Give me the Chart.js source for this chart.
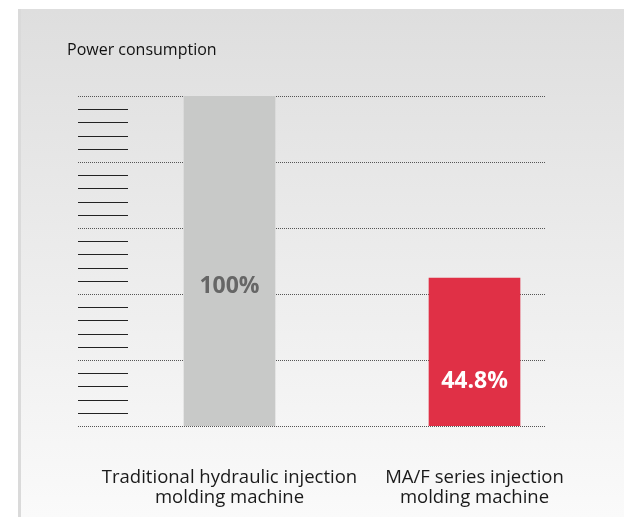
<!DOCTYPE html>
<html>
<head>
<meta charset="utf-8">
<script src="https://cdn.jsdelivr.net/npm/chart.js@4/dist/chart.umd.min.js"></script>
<style>
html,body{margin:0;padding:0;background:#fff;}
canvas{display:block;}
</style>
</head>
<body>
<canvas id="c" width="624" height="517"></canvas>
<script>
const categories = [
  ['Traditional hydraulic injection', 'molding machine'],
  ['MA/F series injection', 'molding machine']
];
const values = [100, 44.8];
const valueLabels = ['100%', '44.8%'];
const chartTitle = 'Power consumption';
const yMin = 0, yMax = 100, majorStep = 20, minorStep = 4;

const FONT = '"Open Sans", "Noto Sans", sans-serif';

const decor = {
  id: 'decor',
  beforeDraw(chart) {
    const ctx = chart.ctx;
    ctx.save();
    ctx.fillStyle = '#ffffff';
    ctx.fillRect(0, 0, chart.width, chart.height);
    const g = ctx.createLinearGradient(0, 9, 0, chart.height);
    g.addColorStop(0, '#dedede');
    g.addColorStop(0.5, '#ececec');
    g.addColorStop(1, '#fafafa');
    ctx.fillStyle = g;
    ctx.fillRect(18, 9, chart.width - 18, chart.height - 9);
    ctx.fillStyle = '#dadada';
    ctx.fillRect(18, 9, 3, chart.height - 9);
    ctx.fillStyle = '#111';
    ctx.font = '16px ' + FONT;
    ctx.textBaseline = 'alphabetic';
    ctx.textAlign = 'left';
    ctx.fillText(chartTitle, 67, 55);
    ctx.restore();
  },
  beforeDatasetsDraw(chart) {
    const ctx = chart.ctx;
    const y = chart.scales.y;
    ctx.save();
    ctx.strokeStyle = '#555';
    ctx.lineWidth = 1;
    ctx.setLineDash([1, 1]);
    for (let v = yMin; v <= yMax; v += majorStep) {
      const py = Math.round(y.getPixelForValue(v)) + 0.5;
      ctx.beginPath();
      ctx.moveTo(78, py);
      ctx.lineTo(545, py);
      ctx.stroke();
    }
    ctx.setLineDash([]);
    ctx.strokeStyle = '#222';
    for (let v = yMin + minorStep; v < yMax; v += minorStep) {
      if (v % majorStep === 0) continue;
      const py = Math.round(y.getPixelForValue(v)) + 0.5;
      ctx.beginPath();
      ctx.moveTo(78, py);
      ctx.lineTo(128, py);
      ctx.stroke();
    }
    ctx.restore();
  },
  afterDatasetsDraw(chart) {
    const ctx = chart.ctx;
    const meta = chart.getDatasetMeta(0);
    const y = chart.scales.y;
    const labelAt = [42.4, 13.6];
    const colors = ['#666666', '#ffffff'];
    ctx.save();
    ctx.font = 'bold 23px ' + FONT;
    ctx.textAlign = 'center';
    ctx.textBaseline = 'middle';
    meta.data.forEach((bar, i) => {
      ctx.fillStyle = colors[i];
      ctx.fillText(valueLabels[i], bar.x, y.getPixelForValue(labelAt[i]));
    });
    ctx.restore();
  }
};

new Chart(document.getElementById('c'), {
  type: 'bar',
  data: {
    labels: categories,
    datasets: [{
      data: values,
      backgroundColor: ['#c8c9c8', '#e03046'],
      borderWidth: 0,
      barThickness: 91
    }]
  },
  options: {
    responsive: false,
    animation: false,
    devicePixelRatio: 1,
    layout: { padding: { left: 107, right: 27, top: 96, bottom: 0 } },
    plugins: { legend: { display: false }, tooltip: { enabled: false }, title: { display: false } },
    scales: {
      y: {
        display: false,
        min: yMin,
        max: yMax
      },
      x: {
        offset: true,
        grid: { display: false, drawTicks: false },
        border: { display: false },
        ticks: {
          color: '#1a1a1a',
          padding: 42,
          maxRotation: 0,
          autoSkip: false,
          font: { size: 18.5, family: FONT, lineHeight: 1.08 }
        },
        afterFit(scale) { scale.height = 91; }
      }
    }
  },
  plugins: [decor]
});
</script>
</body>
</html>
